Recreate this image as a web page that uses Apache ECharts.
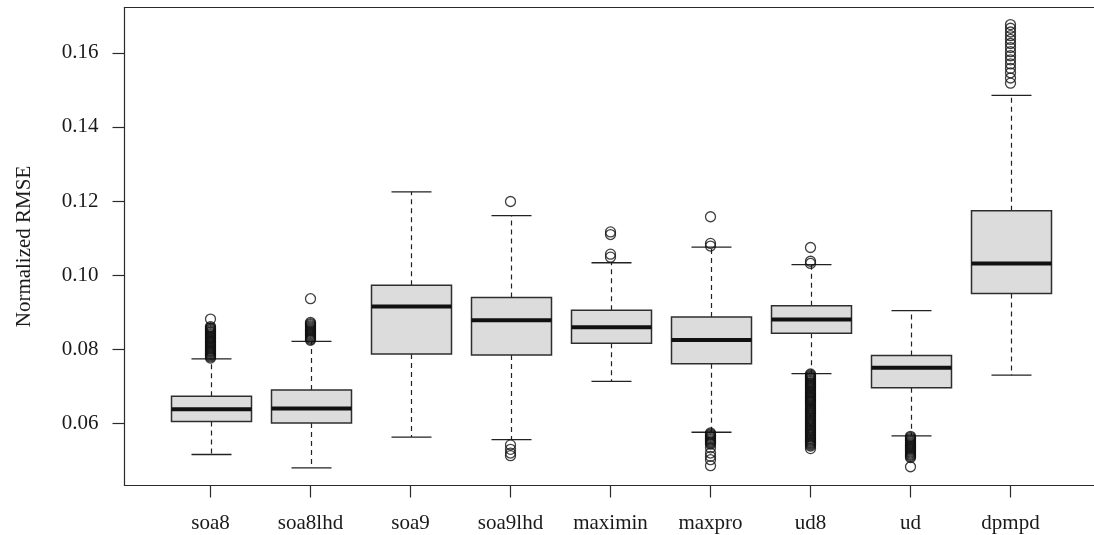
<!DOCTYPE html>
<html>
<head>
<meta charset="utf-8">
<script src="https://cdn.jsdelivr.net/npm/echarts@6/dist/echarts.min.js"></script>
<style>
html,body{margin:0;padding:0;background:#fff;}
#chart{width:1094px;height:535px;}
</style>
</head>
<body>
<div id="chart"></div>
<script>
// ---- data ----
const categories = ['soa8','soa8lhd','soa9','soa9lhd','maximin','maxpro','ud8','ud','dpmpd'];
const whiskerLow  = [0.0517, 0.0481, 0.0564, 0.0557, 0.0714, 0.0577, 0.0735, 0.0567, 0.0731];
const q1          = [0.0606, 0.0602, 0.0788, 0.0785, 0.0817, 0.0762, 0.0844, 0.0697, 0.0951];
const medians     = [0.0639, 0.0641, 0.0916, 0.0879, 0.0860, 0.0826, 0.0881, 0.0751, 0.1032];
const q3          = [0.0674, 0.0691, 0.0973, 0.0940, 0.0906, 0.0888, 0.0918, 0.0784, 0.1174];
const whiskerHigh = [0.0775, 0.0822, 0.1225, 0.1161, 0.1034, 0.1076, 0.1029, 0.0905, 0.1485];

const outSoa8 = [0.0882, 0.0862, 0.0859, 0.0857, 0.0854, 0.0851, 0.0848, 0.0846, 0.0843, 0.0840, 0.0837,
  0.0834, 0.0832, 0.0829, 0.0826, 0.0823, 0.0820, 0.0818, 0.0815, 0.0812, 0.0809, 0.0806, 0.0803,
  0.0800, 0.0797, 0.0795, 0.0792, 0.0789, 0.0786, 0.0783, 0.0780, 0.0777];
const outSoa8lhd = [0.0937, 0.0873, 0.0870, 0.0867, 0.0864, 0.0861, 0.0858, 0.0855, 0.0852, 0.0849,
  0.0846, 0.0843, 0.0840, 0.0837, 0.0834, 0.0831, 0.0828, 0.0825];
const outSoa9 = [];
const outSoa9lhd = [0.1199, 0.0543, 0.0531, 0.0521, 0.0514];
const outMaximin = [0.1117, 0.1110, 0.1057, 0.1049];
const outMaxpro = [0.1158, 0.1086, 0.1079, 0.0575, 0.0572, 0.0569, 0.0566, 0.0563, 0.0560, 0.0557,
  0.0554, 0.0551, 0.0548, 0.0545, 0.0535, 0.0521, 0.0512, 0.0503, 0.0487];
const outUd8 = [0.1075, 0.1038, 0.1032, 0.0734, 0.0731, 0.0728, 0.0725, 0.0723, 0.0720, 0.0717, 0.0714,
  0.0711, 0.0708, 0.0705, 0.0703, 0.0700, 0.0697, 0.0694, 0.0691, 0.0688, 0.0685, 0.0683, 0.0680,
  0.0677, 0.0674, 0.0671, 0.0668, 0.0665, 0.0662, 0.0660, 0.0657, 0.0654, 0.0651, 0.0648, 0.0645,
  0.0642, 0.0639, 0.0636, 0.0633, 0.0630, 0.0627, 0.0624, 0.0621, 0.0618, 0.0615, 0.0612, 0.0609,
  0.0606, 0.0603, 0.0600, 0.0597, 0.0594, 0.0591, 0.0588, 0.0585, 0.0582, 0.0579, 0.0576, 0.0573,
  0.0570, 0.0567, 0.0564, 0.0561, 0.0558, 0.0555, 0.0552, 0.0549, 0.0546, 0.0543, 0.0540, 0.0533];
const outUd = [0.0566, 0.0563, 0.0560, 0.0557, 0.0554, 0.0551, 0.0548, 0.0545, 0.0542, 0.0539, 0.0536,
  0.0533, 0.0530, 0.0527, 0.0524, 0.0521, 0.0518, 0.0515, 0.0512, 0.0509, 0.0484];
const outDpmpd = [0.1676, 0.1666, 0.1656, 0.1646, 0.1636, 0.1625, 0.1614, 0.1603, 0.1592, 0.1581,
  0.1570, 0.1558, 0.1546, 0.1532, 0.1518];
const outliers = [outSoa8, outSoa8lhd, outSoa9, outSoa9lhd, outMaximin, outMaxpro, outUd8, outUd, outDpmpd];

const yTicks = [0.06, 0.08, 0.10, 0.12, 0.14, 0.16];
const yMin = 0.04335, yMax = 0.1722;
const xMin = 0.14, xMax = 9.835;
const yTitle = 'Normalized RMSE';

// ---- build ----
const xPositions = categories.map((c, i) => i + 1);
const boxData = categories.map((c, i) => [xPositions[i], whiskerLow[i], q1[i], medians[i], q3[i], whiskerHigh[i]]);
const outlierData = [];
outliers.forEach((arr, i) => arr.forEach(v => outlierData.push([xPositions[i], v])));

const font = 'Liberation Serif';
const textColor = '#1a1a1a';
const lineColor = '#2a2a2a';
const axisLineStyle = {color: lineColor, width: 1.2};

const chart = echarts.init(document.getElementById('chart'), null, {renderer: 'canvas'});
chart.setOption({
  animation: false,
  backgroundColor: '#ffffff',
  grid: {left: 124.5, top: 7.5, right: 0, height: 478},
  xAxis: [{
    type: 'value', min: xMin, max: xMax, position: 'bottom',
    axisLine: {show: true, lineStyle: axisLineStyle},
    splitLine: {show: false},
    axisTick: {show: true, length: 12, customValues: xPositions, lineStyle: axisLineStyle},
    axisLabel: {customValues: xPositions, formatter: v => categories[Math.round(v) - 1], margin: 27,
      fontFamily: font, fontSize: 21, color: textColor}
  }, {
    type: 'value', min: xMin, max: xMax, position: 'top',
    axisLine: {show: true, lineStyle: axisLineStyle},
    splitLine: {show: false}, axisTick: {show: false}, axisLabel: {show: false}
  }],
  yAxis: {
    type: 'value', min: yMin, max: yMax,
    axisLine: {show: true, lineStyle: axisLineStyle},
    splitLine: {show: false},
    axisTick: {show: true, length: 12, customValues: yTicks, lineStyle: axisLineStyle},
    axisLabel: {customValues: yTicks, formatter: v => v.toFixed(2), margin: 26,
      fontFamily: font, fontSize: 21, color: textColor},
    name: yTitle, nameLocation: 'middle', nameGap: 90, nameRotate: 90,
    nameTextStyle: {fontFamily: font, fontSize: 21, color: textColor}
  },
  series: [
    {
      type: 'custom',
      xAxisIndex: 0,
      data: boxData,
      encode: {x: 0, y: [1, 2, 3, 4, 5]},
      renderItem: function (params, api) {
        const x = api.value(0);
        const pLow = api.coord([x, api.value(1)]);
        const pQ1 = api.coord([x, api.value(2)]);
        const pMed = api.coord([x, api.value(3)]);
        const pQ3 = api.coord([x, api.value(4)]);
        const pHigh = api.coord([x, api.value(5)]);
        const bw = api.size([0.8, 0])[0];
        const cw = bw / 4;
        const cx = Math.round(pMed[0]) + 0.5;
        const dashStyle = {stroke: '#222', lineWidth: 1.2, lineDash: [5, 4]};
        const solid = {stroke: '#222', lineWidth: 1.3};
        return {
          type: 'group',
          children: [
            {type: 'line', shape: {x1: cx, y1: pQ3[1], x2: cx, y2: pHigh[1]}, style: dashStyle},
            {type: 'line', shape: {x1: cx, y1: pQ1[1], x2: cx, y2: pLow[1]}, style: dashStyle},
            {type: 'line', shape: {x1: cx - cw, y1: pHigh[1], x2: cx + cw, y2: pHigh[1]}, style: solid},
            {type: 'line', shape: {x1: cx - cw, y1: pLow[1], x2: cx + cw, y2: pLow[1]}, style: solid},
            {type: 'rect', shape: {x: cx - bw / 2, y: pQ3[1], width: bw, height: pQ1[1] - pQ3[1]},
              style: {fill: '#dcdcdd', stroke: '#2e2e2e', lineWidth: 1.5}},
            {type: 'line', shape: {x1: cx - bw / 2, y1: pMed[1], x2: cx + bw / 2, y2: pMed[1]},
              style: {stroke: '#111', lineWidth: 4}}
          ]
        };
      },
      z: 2
    },
    {
      type: 'scatter',
      xAxisIndex: 0,
      data: outlierData,
      symbol: 'circle',
      symbolSize: 10,
      itemStyle: {color: 'rgba(0,0,0,0)', borderColor: '#111', borderWidth: 1.3},
      z: 3
    }
  ]
});
</script>
</body>
</html>
